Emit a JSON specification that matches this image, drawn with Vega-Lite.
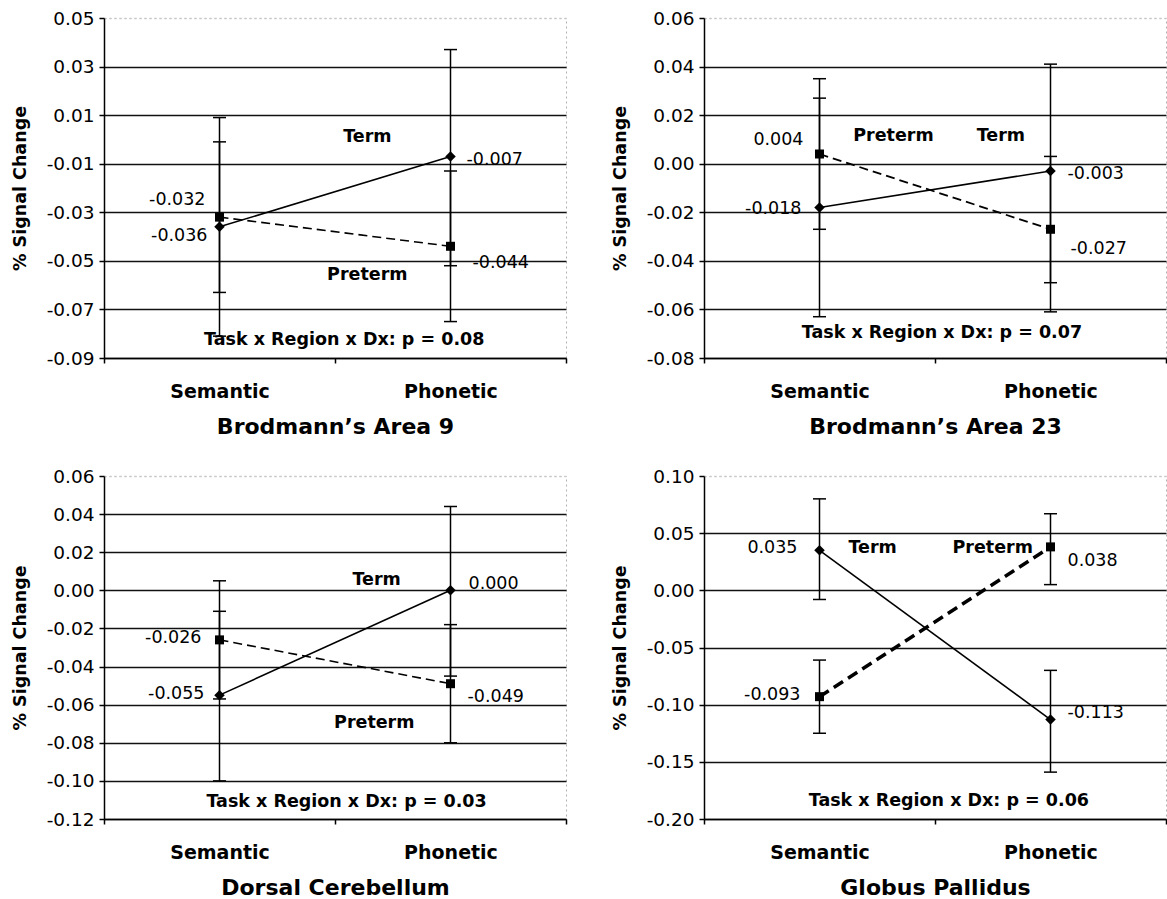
{
  "$schema": "https://vega.github.io/schema/vega-lite/v6.json",
  "padding": {"left": 10, "top": 8, "right": 0, "bottom": 0},
  "background": "white",
  "datasets": {
    "main": [
      {"region": "BA9", "task": "Semantic", "group": "Term", "value": -0.036, "lo": -0.081, "hi": 0.009},
      {"region": "BA9", "task": "Semantic", "group": "Preterm", "value": -0.032, "lo": -0.063, "hi": -0.001},
      {"region": "BA9", "task": "Phonetic", "group": "Term", "value": -0.007, "lo": -0.052, "hi": 0.037},
      {"region": "BA9", "task": "Phonetic", "group": "Preterm", "value": -0.044, "lo": -0.075, "hi": -0.013},
      {"region": "BA23", "task": "Semantic", "group": "Term", "value": -0.018, "lo": -0.063, "hi": 0.027},
      {"region": "BA23", "task": "Semantic", "group": "Preterm", "value": 0.004, "lo": -0.027, "hi": 0.035},
      {"region": "BA23", "task": "Phonetic", "group": "Term", "value": -0.003, "lo": -0.049, "hi": 0.041},
      {"region": "BA23", "task": "Phonetic", "group": "Preterm", "value": -0.027, "lo": -0.061, "hi": 0.003},
      {"region": "DC", "task": "Semantic", "group": "Term", "value": -0.055, "lo": -0.1, "hi": -0.011},
      {"region": "DC", "task": "Semantic", "group": "Preterm", "value": -0.026, "lo": -0.057, "hi": 0.005},
      {"region": "DC", "task": "Phonetic", "group": "Term", "value": 0.0, "lo": -0.045, "hi": 0.044},
      {"region": "DC", "task": "Phonetic", "group": "Preterm", "value": -0.049, "lo": -0.08, "hi": -0.018},
      {"region": "GP", "task": "Semantic", "group": "Term", "value": 0.035, "lo": -0.008, "hi": 0.08},
      {"region": "GP", "task": "Semantic", "group": "Preterm", "value": -0.093, "lo": -0.125, "hi": -0.061},
      {"region": "GP", "task": "Phonetic", "group": "Term", "value": -0.113, "lo": -0.159, "hi": -0.07},
      {"region": "GP", "task": "Phonetic", "group": "Preterm", "value": 0.038, "lo": 0.005, "hi": 0.067}
    ]
  },
  "columns": 2,
  "spacing": {"row": 28, "column": 42},
  "concat": [
    {
      "width": 462, "height": 340,
      "data": {"name": "main"},
      "transform": [{"filter": "datum.region == 'BA9'"}],
      "encoding": {
        "x": {"field": "task", "type": "nominal", "title": "Brodmann’s Area 9", "scale": {"type": "band", "domain": ["Semantic", "Phonetic"], "paddingInner": 0, "paddingOuter": 0}},
        "y": {"field": "value", "type": "quantitative", "title": "% Signal Change", "scale": {"domain": [-0.09, 0.05], "nice": false, "zero": false}, "axis": {"values": [-0.09, -0.07, -0.05, -0.03, -0.01, 0.01, 0.03, 0.05], "gridColor": {"condition": {"test": "datum.value > 0.049", "value": "#c8c8c8"}, "value": "#111111"}, "gridDash": {"condition": {"test": "datum.value > 0.049", "value": [2, 3]}, "value": []}}}
      },
      "layer": [
        {"mark": {"type": "rule", "color": "black", "strokeWidth": 1.5}, "encoding": {"y": {"field": "lo", "type": "quantitative", "title": "% Signal Change"}, "y2": {"field": "hi"}}},
        {"mark": {"type": "tick", "orient": "horizontal", "size": 13, "thickness": 1.5, "color": "black", "opacity": 1}, "encoding": {"y": {"field": "lo", "type": "quantitative", "title": "% Signal Change"}}},
        {"mark": {"type": "tick", "orient": "horizontal", "size": 13, "thickness": 1.5, "color": "black", "opacity": 1}, "encoding": {"y": {"field": "hi", "type": "quantitative", "title": "% Signal Change"}}},
        {"transform": [{"filter": "datum.group == 'Term'"}], "mark": {"type": "line", "color": "black", "strokeWidth": 1.6}, "encoding": {}},
        {"transform": [{"filter": "datum.group == 'Preterm'"}], "mark": {"type": "line", "color": "black", "strokeWidth": 1.6, "strokeDash": [9, 5]}, "encoding": {}},
        {"transform": [{"filter": "datum.group == 'Term'"}], "mark": {"type": "point", "shape": "diamond", "filled": true, "color": "black", "size": 110, "opacity": 1}},
        {"transform": [{"filter": "datum.group == 'Preterm'"}], "mark": {"type": "point", "shape": "square", "filled": true, "color": "black", "size": 81, "opacity": 1}},
        {"transform": [{"filter": "datum.task == 'Semantic' && datum.group == 'Preterm'"}], "mark": {"type": "text", "align": "right", "baseline": "middle", "dx": -14, "dy": -17, "fontSize": 17.5, "color": "black"}, "encoding": {"text": {"field": "value", "type": "quantitative", "format": ".3f"}}},
        {"transform": [{"filter": "datum.task == 'Semantic' && datum.group == 'Term'"}], "mark": {"type": "text", "align": "right", "baseline": "middle", "dx": -12, "dy": 9, "fontSize": 17.5, "color": "black"}, "encoding": {"text": {"field": "value", "type": "quantitative", "format": ".3f"}}},
        {"transform": [{"filter": "datum.task == 'Phonetic' && datum.group == 'Term'"}], "mark": {"type": "text", "align": "left", "baseline": "middle", "dx": 16, "dy": 4, "fontSize": 17.5, "color": "black"}, "encoding": {"text": {"field": "value", "type": "quantitative", "format": ".3f"}}},
        {"transform": [{"filter": "datum.task == 'Phonetic' && datum.group == 'Preterm'"}], "mark": {"type": "text", "align": "left", "baseline": "middle", "dx": 22, "dy": 17, "fontSize": 17.5, "color": "black"}, "encoding": {"text": {"field": "value", "type": "quantitative", "format": ".3f"}}},
        {"transform": [{"filter": "datum.task == 'Semantic' && datum.group == 'Term'"}], "mark": {"type": "text", "text": "Term", "fontSize": 17.5, "fontWeight": "bold", "color": "black"}, "encoding": {"x": {"datum": "Phonetic", "type": "nominal", "bandPosition": 0.14, "title": "Brodmann’s Area 9"}, "y": {"datum": 0.001, "type": "quantitative", "title": "% Signal Change"}}},
        {"transform": [{"filter": "datum.task == 'Semantic' && datum.group == 'Term'"}], "mark": {"type": "text", "text": "Preterm", "fontSize": 17.5, "fontWeight": "bold", "color": "black"}, "encoding": {"x": {"datum": "Phonetic", "type": "nominal", "bandPosition": 0.14, "title": "Brodmann’s Area 9"}, "y": {"datum": -0.056, "type": "quantitative", "title": "% Signal Change"}}},
        {"transform": [{"filter": "datum.task == 'Semantic' && datum.group == 'Term'"}], "mark": {"type": "text", "text": "Task x Region x Dx: p = 0.08", "fontSize": 17.5, "fontWeight": "bold", "color": "black"}, "encoding": {"x": {"datum": "Phonetic", "type": "nominal", "bandPosition": 0.04, "title": "Brodmann’s Area 9"}, "y": {"datum": -0.0826, "type": "quantitative", "title": "% Signal Change"}}}
      ]
    },
    {
      "width": 462, "height": 340,
      "data": {"name": "main"},
      "transform": [{"filter": "datum.region == 'BA23'"}],
      "encoding": {
        "x": {"field": "task", "type": "nominal", "title": "Brodmann’s Area 23", "scale": {"type": "band", "domain": ["Semantic", "Phonetic"], "paddingInner": 0, "paddingOuter": 0}},
        "y": {"field": "value", "type": "quantitative", "title": "% Signal Change", "scale": {"domain": [-0.08, 0.06], "nice": false, "zero": false}, "axis": {"values": [-0.08, -0.06, -0.04, -0.02, 0, 0.02, 0.04, 0.06], "gridColor": {"condition": {"test": "datum.value > 0.059", "value": "#c8c8c8"}, "value": "#111111"}, "gridDash": {"condition": {"test": "datum.value > 0.059", "value": [2, 3]}, "value": []}}}
      },
      "layer": [
        {"mark": {"type": "rule", "color": "black", "strokeWidth": 1.5}, "encoding": {"y": {"field": "lo", "type": "quantitative", "title": "% Signal Change"}, "y2": {"field": "hi"}}},
        {"mark": {"type": "tick", "orient": "horizontal", "size": 13, "thickness": 1.5, "color": "black", "opacity": 1}, "encoding": {"y": {"field": "lo", "type": "quantitative", "title": "% Signal Change"}}},
        {"mark": {"type": "tick", "orient": "horizontal", "size": 13, "thickness": 1.5, "color": "black", "opacity": 1}, "encoding": {"y": {"field": "hi", "type": "quantitative", "title": "% Signal Change"}}},
        {"transform": [{"filter": "datum.group == 'Term'"}], "mark": {"type": "line", "color": "black", "strokeWidth": 1.6}, "encoding": {}},
        {"transform": [{"filter": "datum.group == 'Preterm'"}], "mark": {"type": "line", "color": "black", "strokeWidth": 1.8, "strokeDash": [9, 5]}, "encoding": {}},
        {"transform": [{"filter": "datum.group == 'Term'"}], "mark": {"type": "point", "shape": "diamond", "filled": true, "color": "black", "size": 110, "opacity": 1}},
        {"transform": [{"filter": "datum.group == 'Preterm'"}], "mark": {"type": "point", "shape": "square", "filled": true, "color": "black", "size": 81, "opacity": 1}},
        {"transform": [{"filter": "datum.task == 'Semantic' && datum.group == 'Preterm'"}], "mark": {"type": "text", "align": "right", "baseline": "middle", "dx": -16, "dy": -14, "fontSize": 17.5, "color": "black"}, "encoding": {"text": {"field": "value", "type": "quantitative", "format": ".3f"}}},
        {"transform": [{"filter": "datum.task == 'Semantic' && datum.group == 'Term'"}], "mark": {"type": "text", "align": "right", "baseline": "middle", "dx": -18, "dy": 2, "fontSize": 17.5, "color": "black"}, "encoding": {"text": {"field": "value", "type": "quantitative", "format": ".3f"}}},
        {"transform": [{"filter": "datum.task == 'Phonetic' && datum.group == 'Term'"}], "mark": {"type": "text", "align": "left", "baseline": "middle", "dx": 17, "dy": 3, "fontSize": 17.5, "color": "black"}, "encoding": {"text": {"field": "value", "type": "quantitative", "format": ".3f"}}},
        {"transform": [{"filter": "datum.task == 'Phonetic' && datum.group == 'Preterm'"}], "mark": {"type": "text", "align": "left", "baseline": "middle", "dx": 20, "dy": 20, "fontSize": 17.5, "color": "black"}, "encoding": {"text": {"field": "value", "type": "quantitative", "format": ".3f"}}},
        {"transform": [{"filter": "datum.task == 'Semantic' && datum.group == 'Term'"}], "mark": {"type": "text", "text": "Preterm", "fontSize": 17.5, "fontWeight": "bold", "color": "black"}, "encoding": {"x": {"datum": "Semantic", "type": "nominal", "bandPosition": 0.82, "title": "Brodmann’s Area 23"}, "y": {"datum": 0.0115, "type": "quantitative", "title": "% Signal Change"}}},
        {"transform": [{"filter": "datum.task == 'Semantic' && datum.group == 'Term'"}], "mark": {"type": "text", "text": "Term", "fontSize": 17.5, "fontWeight": "bold", "color": "black"}, "encoding": {"x": {"datum": "Phonetic", "type": "nominal", "bandPosition": 0.285, "title": "Brodmann’s Area 23"}, "y": {"datum": 0.0115, "type": "quantitative", "title": "% Signal Change"}}},
        {"transform": [{"filter": "datum.task == 'Semantic' && datum.group == 'Term'"}], "mark": {"type": "text", "text": "Task x Region x Dx: p = 0.07", "fontSize": 17.5, "fontWeight": "bold", "color": "black"}, "encoding": {"x": {"datum": "Phonetic", "type": "nominal", "bandPosition": 0.03, "title": "Brodmann’s Area 23"}, "y": {"datum": -0.0697, "type": "quantitative", "title": "% Signal Change"}}}
      ]
    },
    {
      "width": 462, "height": 343,
      "data": {"name": "main"},
      "transform": [{"filter": "datum.region == 'DC'"}],
      "encoding": {
        "x": {"field": "task", "type": "nominal", "title": "Dorsal Cerebellum", "scale": {"type": "band", "domain": ["Semantic", "Phonetic"], "paddingInner": 0, "paddingOuter": 0}},
        "y": {"field": "value", "type": "quantitative", "title": "% Signal Change", "scale": {"domain": [-0.12, 0.06], "nice": false, "zero": false}, "axis": {"values": [-0.12, -0.1, -0.08, -0.06, -0.04, -0.02, 0, 0.02, 0.04, 0.06], "gridColor": {"condition": {"test": "datum.value > 0.059", "value": "#c8c8c8"}, "value": "#111111"}, "gridDash": {"condition": {"test": "datum.value > 0.059", "value": [2, 3]}, "value": []}}}
      },
      "layer": [
        {"mark": {"type": "rule", "color": "black", "strokeWidth": 1.5}, "encoding": {"y": {"field": "lo", "type": "quantitative", "title": "% Signal Change"}, "y2": {"field": "hi"}}},
        {"mark": {"type": "tick", "orient": "horizontal", "size": 13, "thickness": 1.5, "color": "black", "opacity": 1}, "encoding": {"y": {"field": "lo", "type": "quantitative", "title": "% Signal Change"}}},
        {"mark": {"type": "tick", "orient": "horizontal", "size": 13, "thickness": 1.5, "color": "black", "opacity": 1}, "encoding": {"y": {"field": "hi", "type": "quantitative", "title": "% Signal Change"}}},
        {"transform": [{"filter": "datum.group == 'Term'"}], "mark": {"type": "line", "color": "black", "strokeWidth": 1.6}, "encoding": {}},
        {"transform": [{"filter": "datum.group == 'Preterm'"}], "mark": {"type": "line", "color": "black", "strokeWidth": 1.6, "strokeDash": [9, 5]}, "encoding": {}},
        {"transform": [{"filter": "datum.group == 'Term'"}], "mark": {"type": "point", "shape": "diamond", "filled": true, "color": "black", "size": 110, "opacity": 1}},
        {"transform": [{"filter": "datum.group == 'Preterm'"}], "mark": {"type": "point", "shape": "square", "filled": true, "color": "black", "size": 81, "opacity": 1}},
        {"transform": [{"filter": "datum.task == 'Semantic' && datum.group == 'Preterm'"}], "mark": {"type": "text", "align": "right", "baseline": "middle", "dx": -18, "dy": -2, "fontSize": 17.5, "color": "black"}, "encoding": {"text": {"field": "value", "type": "quantitative", "format": ".3f"}}},
        {"transform": [{"filter": "datum.task == 'Semantic' && datum.group == 'Term'"}], "mark": {"type": "text", "align": "right", "baseline": "middle", "dx": -15, "dy": -1, "fontSize": 17.5, "color": "black"}, "encoding": {"text": {"field": "value", "type": "quantitative", "format": ".3f"}}},
        {"transform": [{"filter": "datum.task == 'Phonetic' && datum.group == 'Term'"}], "mark": {"type": "text", "align": "left", "baseline": "middle", "dx": 18, "dy": -6, "fontSize": 17.5, "color": "black"}, "encoding": {"text": {"field": "value", "type": "quantitative", "format": ".3f"}}},
        {"transform": [{"filter": "datum.task == 'Phonetic' && datum.group == 'Preterm'"}], "mark": {"type": "text", "align": "left", "baseline": "middle", "dx": 17, "dy": 13, "fontSize": 17.5, "color": "black"}, "encoding": {"text": {"field": "value", "type": "quantitative", "format": ".3f"}}},
        {"transform": [{"filter": "datum.task == 'Semantic' && datum.group == 'Term'"}], "mark": {"type": "text", "text": "Term", "fontSize": 17.5, "fontWeight": "bold", "color": "black"}, "encoding": {"x": {"datum": "Phonetic", "type": "nominal", "bandPosition": 0.18, "title": "Dorsal Cerebellum"}, "y": {"datum": 0.0056, "type": "quantitative", "title": "% Signal Change"}}},
        {"transform": [{"filter": "datum.task == 'Semantic' && datum.group == 'Term'"}], "mark": {"type": "text", "text": "Preterm", "fontSize": 17.5, "fontWeight": "bold", "color": "black"}, "encoding": {"x": {"datum": "Phonetic", "type": "nominal", "bandPosition": 0.17, "title": "Dorsal Cerebellum"}, "y": {"datum": -0.0698, "type": "quantitative", "title": "% Signal Change"}}},
        {"transform": [{"filter": "datum.task == 'Semantic' && datum.group == 'Term'"}], "mark": {"type": "text", "text": "Task x Region x Dx: p = 0.03", "fontSize": 17.5, "fontWeight": "bold", "color": "black"}, "encoding": {"x": {"datum": "Phonetic", "type": "nominal", "bandPosition": 0.05, "title": "Dorsal Cerebellum"}, "y": {"datum": -0.111, "type": "quantitative", "title": "% Signal Change"}}}
      ]
    },
    {
      "width": 462, "height": 343,
      "data": {"name": "main"},
      "transform": [{"filter": "datum.region == 'GP'"}],
      "encoding": {
        "x": {"field": "task", "type": "nominal", "title": "Globus Pallidus", "scale": {"type": "band", "domain": ["Semantic", "Phonetic"], "paddingInner": 0, "paddingOuter": 0}},
        "y": {"field": "value", "type": "quantitative", "title": "% Signal Change", "scale": {"domain": [-0.2, 0.1], "nice": false, "zero": false}, "axis": {"values": [-0.2, -0.15, -0.1, -0.05, 0, 0.05, 0.1], "gridColor": {"condition": {"test": "datum.value > 0.099", "value": "#c8c8c8"}, "value": "#111111"}, "gridDash": {"condition": {"test": "datum.value > 0.099", "value": [2, 3]}, "value": []}}}
      },
      "layer": [
        {"mark": {"type": "rule", "color": "black", "strokeWidth": 1.5}, "encoding": {"y": {"field": "lo", "type": "quantitative", "title": "% Signal Change"}, "y2": {"field": "hi"}}},
        {"mark": {"type": "tick", "orient": "horizontal", "size": 13, "thickness": 1.5, "color": "black", "opacity": 1}, "encoding": {"y": {"field": "lo", "type": "quantitative", "title": "% Signal Change"}}},
        {"mark": {"type": "tick", "orient": "horizontal", "size": 13, "thickness": 1.5, "color": "black", "opacity": 1}, "encoding": {"y": {"field": "hi", "type": "quantitative", "title": "% Signal Change"}}},
        {"transform": [{"filter": "datum.group == 'Term'"}], "mark": {"type": "line", "color": "black", "strokeWidth": 1.6}, "encoding": {}},
        {"transform": [{"filter": "datum.group == 'Preterm'"}], "mark": {"type": "line", "color": "black", "strokeWidth": 3.5, "strokeDash": [11, 6]}, "encoding": {}},
        {"transform": [{"filter": "datum.group == 'Term'"}], "mark": {"type": "point", "shape": "diamond", "filled": true, "color": "black", "size": 110, "opacity": 1}},
        {"transform": [{"filter": "datum.group == 'Preterm'"}], "mark": {"type": "point", "shape": "square", "filled": true, "color": "black", "size": 81, "opacity": 1}},
        {"transform": [{"filter": "datum.task == 'Semantic' && datum.group == 'Term'"}], "mark": {"type": "text", "align": "right", "baseline": "middle", "dx": -22, "dy": -2, "fontSize": 17.5, "color": "black"}, "encoding": {"text": {"field": "value", "type": "quantitative", "format": ".3f"}}},
        {"transform": [{"filter": "datum.task == 'Semantic' && datum.group == 'Preterm'"}], "mark": {"type": "text", "align": "right", "baseline": "middle", "dx": -19, "dy": -2, "fontSize": 17.5, "color": "black"}, "encoding": {"text": {"field": "value", "type": "quantitative", "format": ".3f"}}},
        {"transform": [{"filter": "datum.task == 'Phonetic' && datum.group == 'Preterm'"}], "mark": {"type": "text", "align": "left", "baseline": "middle", "dx": 17, "dy": 14, "fontSize": 17.5, "color": "black"}, "encoding": {"text": {"field": "value", "type": "quantitative", "format": ".3f"}}},
        {"transform": [{"filter": "datum.task == 'Phonetic' && datum.group == 'Term'"}], "mark": {"type": "text", "align": "left", "baseline": "middle", "dx": 17, "dy": -7, "fontSize": 17.5, "color": "black"}, "encoding": {"text": {"field": "value", "type": "quantitative", "format": ".3f"}}},
        {"transform": [{"filter": "datum.task == 'Semantic' && datum.group == 'Term'"}], "mark": {"type": "text", "text": "Term", "fontSize": 17.5, "fontWeight": "bold", "color": "black"}, "encoding": {"x": {"datum": "Semantic", "type": "nominal", "bandPosition": 0.73, "title": "Globus Pallidus"}, "y": {"datum": 0.0374, "type": "quantitative", "title": "% Signal Change"}}},
        {"transform": [{"filter": "datum.task == 'Semantic' && datum.group == 'Term'"}], "mark": {"type": "text", "text": "Preterm", "fontSize": 17.5, "fontWeight": "bold", "color": "black"}, "encoding": {"x": {"datum": "Phonetic", "type": "nominal", "bandPosition": 0.25, "title": "Globus Pallidus"}, "y": {"datum": 0.037, "type": "quantitative", "title": "% Signal Change"}}},
        {"transform": [{"filter": "datum.task == 'Semantic' && datum.group == 'Term'"}], "mark": {"type": "text", "text": "Task x Region x Dx: p = 0.06", "fontSize": 17.5, "fontWeight": "bold", "color": "black"}, "encoding": {"x": {"datum": "Phonetic", "type": "nominal", "bandPosition": 0.06, "title": "Globus Pallidus"}, "y": {"datum": -0.1845, "type": "quantitative", "title": "% Signal Change"}}}
      ]
    }
  ],
  "config": {
    "font": "DejaVu Sans",
    "locale": {"number": {"decimal": ".", "thousands": ",", "grouping": [3], "currency": ["$", ""], "minus": "-"}},
    "view": {"stroke": "#b0b0b0", "strokeDash": [2, 3], "strokeWidth": 1},
    "text": {"font": "DejaVu Sans"},
    "axis": {"domainColor": "black", "domainWidth": 1.5, "tickColor": "black", "tickWidth": 1.5, "tickSize": 5, "labelColor": "black", "titleColor": "black", "labelFont": "DejaVu Sans", "titleFont": "DejaVu Sans"},
    "axisX": {"labelFontSize": 19, "labelFontWeight": "bold", "labelAngle": 0, "labelPadding": 19, "titleFontSize": 22, "titleFontWeight": "bold", "titlePadding": 15, "tickBand": "extent", "grid": false},
    "axisY": {"labelFontSize": 18.5, "labelPadding": 5, "titleFontSize": 17.5, "titleFontWeight": "bold", "titlePadding": 17, "grid": true, "gridWidth": 1.5, "format": ".2f"}
  }
}
